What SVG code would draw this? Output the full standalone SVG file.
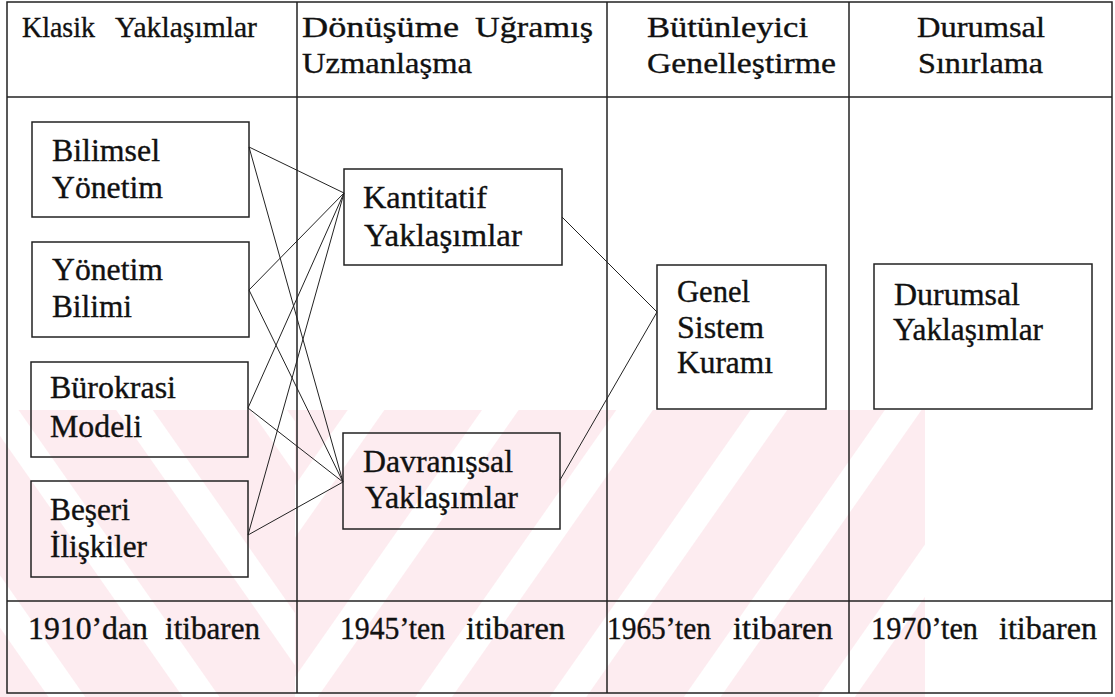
<svg xmlns="http://www.w3.org/2000/svg" width="1115" height="697" viewBox="0 0 1115 697">
<style>
text{font-family:"Liberation Serif","Times New Roman","DejaVu Serif",serif;fill:#111;stroke:#111;stroke-width:0.35;}
.h{font-size:30px;}
.b{font-size:31px;}
.f{font-size:31px;}
.grid{stroke:#222;stroke-width:1.5;fill:none;}
.box{stroke:#222;stroke-width:1.5;fill:none;}
.c{stroke:#222;stroke-width:1;fill:none;}
</style>
<defs>
<pattern id="sR" width="110" height="100" patternUnits="userSpaceOnUse" patternTransform="rotate(35)"><rect x="0" y="0" width="80" height="100" fill="#fdecf0"/></pattern>
<pattern id="sL" width="110" height="100" patternUnits="userSpaceOnUse" patternTransform="rotate(-35)"><rect x="0" y="0" width="80" height="100" fill="#fdecf0"/></pattern>
</defs>
<g id="watermark">
<rect x="0" y="410" width="295" height="287" fill="url(#sL)"/>
<rect x="295" y="410" width="630" height="287" fill="url(#sR)"/>
</g>
<g id="table">
<rect class="grid" x="7" y="2" width="1105" height="691"/>
<line class="grid" x1="7" y1="97" x2="1112" y2="97"/>
<line class="grid" x1="7" y1="601" x2="1112" y2="601"/>
<line class="grid" x1="297" y1="2" x2="297" y2="693"/>
<line class="grid" x1="607" y1="2" x2="607" y2="693"/>
<line class="grid" x1="849" y1="2" x2="849" y2="693"/>
</g>
<g id="headers">
<text class="h" y="37"><tspan x="22" textLength="73" lengthAdjust="spacingAndGlyphs">Klasik</tspan> <tspan x="115" textLength="142" lengthAdjust="spacingAndGlyphs">Yaklaşımlar</tspan></text>
<text class="h" y="37"><tspan x="302" textLength="157" lengthAdjust="spacingAndGlyphs">Dönüşüme</tspan> <tspan x="475" textLength="118" lengthAdjust="spacingAndGlyphs">Uğramış</tspan></text>
<text class="h" x="302" y="73" textLength="170" lengthAdjust="spacingAndGlyphs">Uzmanlaşma</text>
<text class="h" x="647" y="37" textLength="161" lengthAdjust="spacingAndGlyphs">Bütünleyici</text>
<text class="h" x="647" y="73" textLength="189" lengthAdjust="spacingAndGlyphs">Genelleştirme</text>
<text class="h" x="917" y="37" textLength="128" lengthAdjust="spacingAndGlyphs">Durumsal</text>
<text class="h" x="918" y="73" textLength="125" lengthAdjust="spacingAndGlyphs">Sınırlama</text>
</g>
<g id="connectors">
<line class="c" x1="249" y1="147" x2="344" y2="193"/>
<line class="c" x1="249" y1="147" x2="343" y2="482"/>
<line class="c" x1="249" y1="290" x2="344" y2="193"/>
<line class="c" x1="249" y1="290" x2="343" y2="482"/>
<line class="c" x1="248" y1="408" x2="344" y2="193"/>
<line class="c" x1="248" y1="408" x2="343" y2="482"/>
<line class="c" x1="248" y1="535" x2="344" y2="193"/>
<line class="c" x1="248" y1="535" x2="343" y2="482"/>
<line class="c" x1="562" y1="217" x2="657" y2="312"/>
<line class="c" x1="560" y1="480" x2="657" y2="312"/>
</g>
<g id="bilimsel-yonetim">
<rect class="box" x="32" y="122" width="217" height="95"/>
<text class="b" x="52" y="161" textLength="108" lengthAdjust="spacingAndGlyphs">Bilimsel</text>
<text class="b" x="52" y="198" textLength="111" lengthAdjust="spacingAndGlyphs">Yönetim</text>
</g>
<g id="yonetim-bilimi">
<rect class="box" x="32" y="242" width="217" height="95"/>
<text class="b" x="52" y="280" textLength="111" lengthAdjust="spacingAndGlyphs">Yönetim</text>
<text class="b" x="52" y="317" textLength="80" lengthAdjust="spacingAndGlyphs">Bilimi</text>
</g>
<g id="burokrasi-modeli">
<rect class="box" x="31" y="362" width="217" height="95"/>
<text class="b" x="50" y="398" textLength="126" lengthAdjust="spacingAndGlyphs">Bürokrasi</text>
<text class="b" x="50" y="437" textLength="92" lengthAdjust="spacingAndGlyphs">Modeli</text>
</g>
<g id="beseri-iliskiler">
<rect class="box" x="31" y="481" width="217" height="96"/>
<text class="b" x="50" y="520" textLength="80" lengthAdjust="spacingAndGlyphs">Beşeri</text>
<text class="b" x="50" y="557" textLength="97" lengthAdjust="spacingAndGlyphs">İlişkiler</text>
</g>
<g id="kantitatif">
<rect class="box" x="344" y="169" width="218" height="96"/>
<text class="b" x="363" y="208" textLength="124" lengthAdjust="spacingAndGlyphs">Kantitatif</text>
<text class="b" x="364" y="246" textLength="158" lengthAdjust="spacingAndGlyphs">Yaklaşımlar</text>
</g>
<g id="davranissal">
<rect class="box" x="343" y="433" width="217" height="96"/>
<text class="b" x="363" y="472" textLength="150" lengthAdjust="spacingAndGlyphs">Davranışsal</text>
<text class="b" x="365" y="508" textLength="153" lengthAdjust="spacingAndGlyphs">Yaklaşımlar</text>
</g>
<g id="genel-sistem">
<rect class="box" x="657" y="265" width="169" height="144"/>
<text class="b" x="677" y="302" textLength="73" lengthAdjust="spacingAndGlyphs">Genel</text>
<text class="b" x="677" y="338" textLength="87" lengthAdjust="spacingAndGlyphs">Sistem</text>
<text class="b" x="677" y="373" textLength="96" lengthAdjust="spacingAndGlyphs">Kuramı</text>
</g>
<g id="durumsal">
<rect class="box" x="874" y="264" width="218" height="145"/>
<text class="b" x="894" y="305" textLength="126" lengthAdjust="spacingAndGlyphs">Durumsal</text>
<text class="b" x="893" y="340" textLength="150" lengthAdjust="spacingAndGlyphs">Yaklaşımlar</text>
</g>
<g id="dates">
<text class="f" y="639"><tspan x="28" textLength="120" lengthAdjust="spacingAndGlyphs">1910’dan</tspan> <tspan x="165" textLength="95" lengthAdjust="spacingAndGlyphs">itibaren</tspan></text>
<text class="f" y="639"><tspan x="340" textLength="105" lengthAdjust="spacingAndGlyphs">1945’ten</tspan> <tspan x="466" textLength="99" lengthAdjust="spacingAndGlyphs">itibaren</tspan></text>
<text class="f" y="639"><tspan x="607" textLength="104" lengthAdjust="spacingAndGlyphs">1965’ten</tspan> <tspan x="733" textLength="100" lengthAdjust="spacingAndGlyphs">itibaren</tspan></text>
<text class="f" y="639"><tspan x="871" textLength="107" lengthAdjust="spacingAndGlyphs">1970’ten</tspan> <tspan x="999" textLength="98" lengthAdjust="spacingAndGlyphs">itibaren</tspan></text>
</g>
</svg>
